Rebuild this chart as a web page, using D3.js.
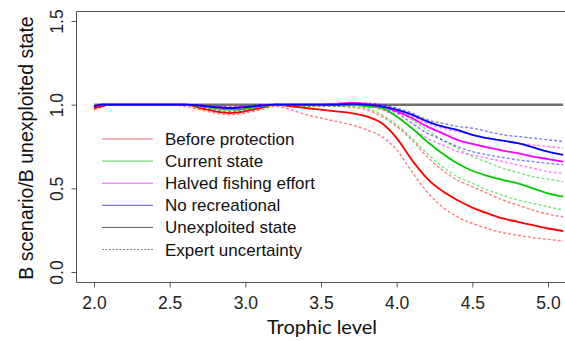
<!DOCTYPE html>
<html>
<head>
<meta charset="utf-8">
<script src="https://cdn.jsdelivr.net/npm/d3@7"></script>
<style>
  body { margin: 0; background: #fff; }
  svg { display: block; }
</style>
</head>
<body>
<svg width="565" height="341"></svg>
<script>
// trophic level grid
var tl = [2.0,2.05,2.1,2.2,2.3,2.4,2.5,2.6,2.7,2.8,2.9,3.0,3.1,3.2,3.3,3.4,3.5,3.6,3.7,3.8,3.9,4.0,4.1,4.2,4.3,4.4,4.5,4.6,4.7,4.8,4.9,5.0,5.1];

var redSolid   = [0.98,0.99,1.0,1.0,1.0,1.0,1.0,1.0,0.98,0.96,0.95,0.96,0.98,1.0,0.99,0.98,0.97,0.96,0.95,0.93,0.89,0.80,0.67,0.56,0.485,0.43,0.385,0.35,0.32,0.30,0.28,0.26,0.245];
var redLo      = [0.97,0.985,1.0,1.0,1.0,1.0,1.0,0.99,0.97,0.95,0.94,0.95,0.97,0.99,0.97,0.94,0.92,0.90,0.88,0.85,0.81,0.73,0.60,0.48,0.39,0.33,0.29,0.26,0.235,0.22,0.205,0.195,0.185];
var redHi      = [0.99,1.0,1.0,1.0,1.0,1.0,1.0,1.0,0.99,0.97,0.96,0.97,0.99,1.0,0.995,0.99,0.99,0.99,0.985,0.97,0.93,0.87,0.79,0.69,0.61,0.55,0.51,0.47,0.43,0.40,0.37,0.345,0.33];
var greenSolid = [0.99,1.0,1.0,1.0,1.0,1.0,1.0,1.0,0.99,0.98,0.97,0.975,0.99,1.0,1.0,1.0,1.0,1.0,1.0,0.99,0.98,0.93,0.86,0.78,0.71,0.65,0.605,0.575,0.55,0.53,0.50,0.47,0.45];
var greenLo    = [0.98,0.99,1.0,1.0,1.0,1.0,1.0,1.0,0.985,0.97,0.96,0.965,0.985,1.0,0.995,0.99,0.99,0.99,0.99,0.98,0.94,0.88,0.80,0.71,0.63,0.57,0.53,0.49,0.46,0.43,0.41,0.39,0.37];
var greenHi    = [0.99,1.0,1.0,1.0,1.0,1.0,1.0,1.0,0.995,0.985,0.98,0.985,0.995,1.0,1.0,1.0,1.0,1.0,1.0,1.0,0.99,0.96,0.91,0.85,0.79,0.74,0.69,0.655,0.62,0.595,0.57,0.555,0.54];
var pinkSolid  = [0.99,1.0,1.0,1.0,1.0,1.0,1.0,1.0,0.995,0.985,0.98,0.985,0.995,1.0,1.0,1.0,1.0,1.005,1.01,1.005,0.99,0.96,0.92,0.87,0.83,0.79,0.765,0.745,0.725,0.71,0.69,0.675,0.66];
var pinkLo     = [0.98,0.99,1.0,1.0,1.0,1.0,1.0,1.0,0.99,0.98,0.975,0.98,0.99,1.0,1.0,1.0,1.0,1.0,1.0,1.0,0.97,0.93,0.86,0.80,0.76,0.72,0.70,0.68,0.66,0.64,0.62,0.60,0.59];
var pinkHi     = [0.99,1.0,1.0,1.0,1.0,1.0,1.0,1.0,0.995,0.99,0.985,0.99,1.0,1.0,1.0,1.0,1.0,1.005,1.01,1.01,1.0,0.97,0.93,0.89,0.86,0.84,0.82,0.80,0.785,0.77,0.76,0.75,0.74];
var blueSolid  = [0.99,1.0,1.0,1.0,1.0,1.0,1.0,1.0,0.995,0.985,0.98,0.985,0.995,1.0,1.0,1.0,1.0,1.0,1.005,1.0,0.99,0.97,0.94,0.90,0.87,0.85,0.82,0.80,0.785,0.77,0.745,0.72,0.70];
var blueLo     = [0.98,0.99,1.0,1.0,1.0,1.0,1.0,1.0,0.99,0.98,0.975,0.98,0.99,1.0,1.0,1.0,1.0,1.0,1.0,0.995,0.98,0.95,0.89,0.83,0.79,0.75,0.72,0.70,0.685,0.67,0.66,0.65,0.64];
var blueHi     = [0.99,1.0,1.0,1.0,1.0,1.0,1.0,1.0,0.995,0.99,0.985,0.99,1.0,1.0,1.0,1.0,1.0,1.0,1.005,1.005,1.0,0.98,0.95,0.91,0.89,0.87,0.86,0.84,0.82,0.81,0.80,0.79,0.78];
var unexploited = 1.0;

var xTicks = [2.0, 2.5, 3.0, 3.5, 4.0, 4.5, 5.0];
var yTicks = [0.0, 0.5, 1.0, 1.5];
var legendLabels = ["Before protection", "Current state", "Halved fishing effort",
                    "No recreational", "Unexploited state", "Expert uncertainty"];

var svg = d3.select("svg");
var boxL = 76, boxT = 11, boxB = 282, boxR = 565;

var x = d3.scaleLinear().domain([2, 5]).range([94, 548]);
var y = d3.scaleLinear().domain([0, 1.5]).range([272, 21]);

// plot box (right side falls off the picture)
svg.append("path")
    .attr("d", "M" + (boxR + 5) + "," + (boxT + 0.5) + "H" + (boxL + 0.5) + "V" + (boxB + 0.5) + "H" + (boxR + 5))
    .attr("fill", "none")
    .attr("stroke", "#555")
    .attr("stroke-width", 1);

svg.append("defs").append("clipPath").attr("id", "clip")
  .append("rect")
    .attr("x", boxL).attr("y", boxT)
    .attr("width", boxR - boxL).attr("height", boxB - boxT);

var xAxis = svg.append("g")
    .attr("transform", "translate(0," + (boxB + 0.5) + ")")
    .call(d3.axisBottom(x).tickValues(xTicks).tickFormat(d3.format(".1f")).tickSize(5).tickSizeOuter(0));
xAxis.select(".domain").remove();
xAxis.selectAll("line").attr("stroke", "#555");
xAxis.selectAll("text")
    .attr("font-family", "Liberation Sans, Arial, sans-serif")
    .attr("font-size", "17.5px")
    .attr("fill", "#222")
    .attr("dy", "1.05em");

var yAxis = svg.append("g")
    .attr("transform", "translate(" + (boxL + 0.5) + ",0)")
    .call(d3.axisLeft(y).tickValues(yTicks).tickFormat(d3.format(".1f")).tickSize(5).tickSizeOuter(0));
yAxis.select(".domain").remove();
yAxis.selectAll("line").attr("stroke", "#555");
yAxis.selectAll("text")
    .attr("font-family", "Liberation Sans, Arial, sans-serif")
    .attr("font-size", "17.5px")
    .attr("fill", "#222")
    .attr("text-anchor", "middle")
    .attr("x", 0).attr("dy", 0)
    .attr("transform", "translate(-14,0) rotate(-90)");

svg.append("text")
    .attr("transform", "translate(33,148) rotate(-90)")
    .attr("text-anchor", "middle")
    .attr("font-family", "Liberation Sans, Arial, sans-serif")
    .attr("font-size", "19.5px")
    .attr("fill", "#111")
    .text("B scenario/B unexploited state");

svg.append("text")
    .attr("x", 322).attr("y", 334)
    .attr("text-anchor", "middle")
    .attr("font-family", "Lato, 'Open Sans', sans-serif")
    .attr("font-size", "20px")
    .attr("fill", "#111")
    .text("Trophic level");

var plot = svg.append("g").attr("clip-path", "url(#clip)");

var line = d3.line()
    .x(function(d) { return x(d[0]); })
    .y(function(d) { return y(d[1]); })
    .curve(d3.curveMonotoneX);

function pairs(vals) { return tl.map(function(t, i) { return [t, vals[i]]; }); }

// unexploited reference line
plot.append("line")
    .attr("x1", x(2.0)).attr("x2", x(5.1))
    .attr("y1", y(unexploited)).attr("y2", y(unexploited))
    .attr("stroke", "#707070").attr("stroke-width", 2.5);

var dashed = [
  [redLo, "rgba(255,0,0,0.5)"], [redHi, "rgba(255,0,0,0.5)"],
  [greenLo, "rgba(0,200,0,0.5)"], [greenHi, "rgba(0,200,0,0.5)"],
  [pinkLo, "rgba(255,0,255,0.5)"], [pinkHi, "rgba(255,0,255,0.5)"],
  [blueLo, "rgba(0,0,255,0.5)"], [blueHi, "rgba(0,0,255,0.5)"]
];
dashed.forEach(function(s) {
  plot.append("path")
      .attr("d", line(pairs(s[0])))
      .attr("fill", "none")
      .attr("stroke", s[1])
      .attr("stroke-width", 1.4)
      .attr("stroke-dasharray", "3,2");
});

var solid = [
  [redSolid, "#ff0000"], [greenSolid, "#00cc00"],
  [pinkSolid, "#ff00ff"], [blueSolid, "#0000ff"]
];
solid.forEach(function(s) {
  plot.append("path")
      .attr("d", line(pairs(s[0])))
      .attr("fill", "none")
      .attr("stroke", s[1])
      .attr("stroke-width", 1.8);
});

// legend
var legendColors = ["#f07070", "#55cc55", "#ee55ee", "#5555dd", "#555555", "#888888"];
var lg = svg.append("g");
legendLabels.forEach(function(lab, i) {
  var yy = 139 + i * 22.1;
  lg.append("line")
      .attr("x1", 102).attr("x2", 153)
      .attr("y1", yy).attr("y2", yy)
      .attr("stroke", legendColors[i])
      .attr("stroke-width", 1)
      .attr("stroke-dasharray", i === 5 ? "2,1.5" : null);
  lg.append("text")
      .attr("x", 165).attr("y", yy + 6)
      .attr("font-family", "Liberation Sans, Arial, sans-serif")
      .attr("font-size", "17px")
      .attr("fill", "#111")
      .text(lab);
});
</script>
</body>
</html>
